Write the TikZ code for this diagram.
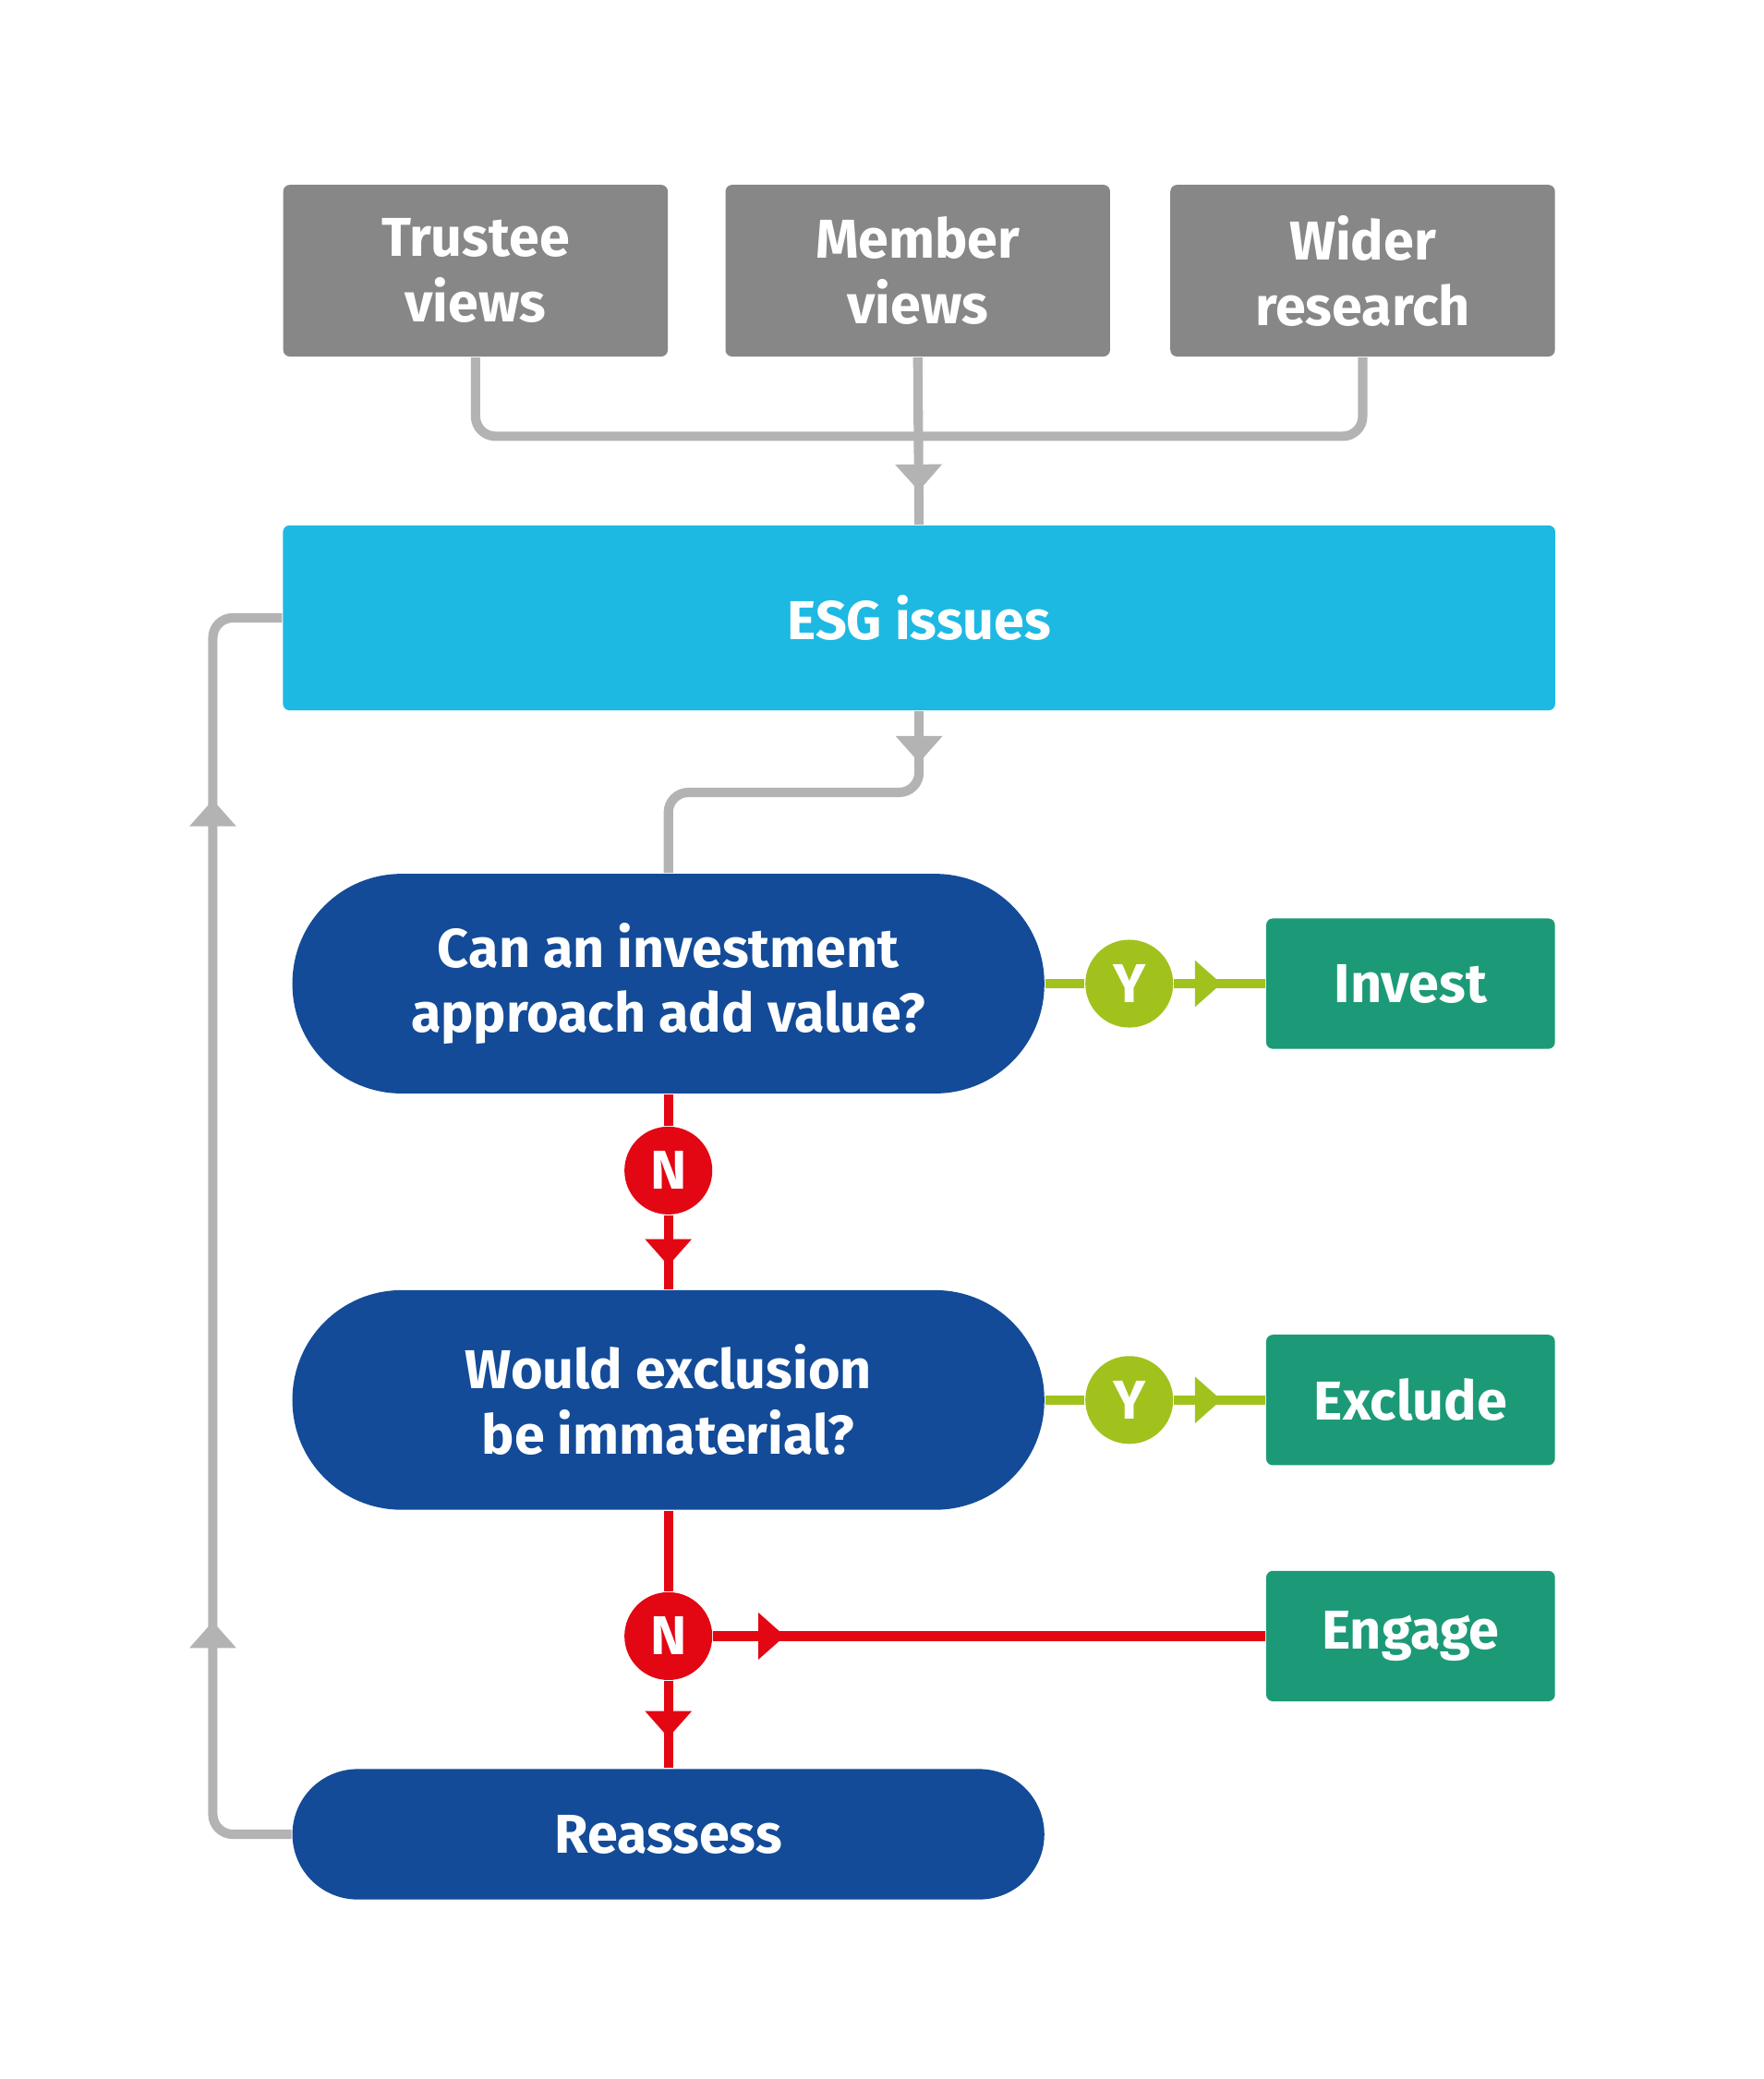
\documentclass[tikz,border=0pt]{standalone}
\usepackage{fontspec}
\setmainfont{Fira Sans}
\usetikzlibrary{arrows.meta,decorations.markings}
\definecolor{boxgray}{HTML}{878787}
\definecolor{linegray}{HTML}{B3B3B3}
\definecolor{esgblue}{HTML}{1DB9E3}
\definecolor{darkblue}{HTML}{134B98}
\definecolor{outgreen}{HTML}{1C9A77}
\definecolor{ygreen}{HTML}{A1C21D}
\definecolor{nred}{HTML}{E30613}
\tikzset{
 txt/.style={text=white,font=\fontsize{11.7}{14}\selectfont\bfseries,align=center,inner sep=0pt},
 src/.style={txt,fill=boxgray,rounded corners=0.05cm,minimum width=2.89cm,minimum height=1.29cm},
 question/.style={txt,fill=darkblue,rounded corners=0.82cm,minimum width=5.65cm,minimum height=1.65cm},
 outcome/.style={txt,fill=outgreen,rounded corners=0.05cm,minimum width=2.17cm,minimum height=0.98cm},
 answer/.style={circle,txt,minimum size=0.66cm},
 conn/.style={line width=2pt,rounded corners=0.15cm},
 tip at/.style={postaction={decorate,decoration={markings,mark=at position #1 with {\arrow{Triangle[length=0.2cm,width=0.34cm]}}}}},
}
\begin{document}
\begin{tikzpicture}[x=0.01cm,y=-0.01cm]
 \useasboundingbox (0,0) rectangle (1326,1563);
 \node[src] (trustee) at (357.5,203.5) {Trustee\\views};
 \node[src] (member) at (690,203.5) {Member\\views};
 \node[src] (wider) at (1024.5,203.5) {Wider\\research};
 \node[txt,fill=esgblue,rounded corners=0.05cm,minimum width=9.56cm,minimum height=1.39cm] (esg) at (691,464.5) {ESG issues};

 \node[question] (value) at (502.5,739.5) {Can an investment\\approach add value?};
 \node[question] (exclusion) at (502.5,1052.5) {Would exclusion\\be immaterial?};
 \node[question,minimum height=0.98cm,rounded corners=0.49cm] (reassess) at (502.5,1379) {Reassess};

 \node[outcome] (invest) at (1060.5,739.5) {Invest};
 \node[outcome] (exclude) at (1060.5,1052.5) {Exclude};
 \node[outcome] (engage) at (1060.5,1230) {Engage};

 \node[answer,fill=ygreen] (yvalue) at (849,739.5) {Y};
 \node[answer,fill=ygreen] (yexcl) at (849,1052.5) {Y};
 \node[answer,fill=nred] (nvalue) at (502.5,880) {N};
 \node[answer,fill=nred] (nexcl) at (502.5,1230) {N};

 % sources into ESG issues
 \coordinate (join) at (690,328);
 \draw[conn,linegray] (trustee.south) |- (join);
 \draw[conn,linegray] (wider.south) |- (join);
 \draw[conn,linegray,tip at=0.8] (member.south) -- (esg.north);
 \draw[conn,linegray,tip at=0.13] (esg.south) -- ++(0,61) -| (value.north);

 % yes / no branches
 \draw[conn,ygreen] (value.east) -- (yvalue);
 \draw[conn,ygreen,tip at=0.52] (yvalue) -- (invest.west);
 \draw[conn,ygreen] (exclusion.east) -- (yexcl);
 \draw[conn,ygreen,tip at=0.52] (yexcl) -- (exclude.west);
 \draw[conn,nred] (value.south) -- (nvalue);
 \draw[conn,nred,tip at=0.68] (nvalue) -- (exclusion.north);
 \draw[conn,nred] (exclusion.south) -- (nexcl);
 \draw[conn,nred,tip at=0.65] (nexcl) -- (reassess.north);
 \draw[conn,nred,tip at=0.13] (nexcl) -- (engage.west);

 % feedback loop
 \draw[conn,linegray,tip at=0.21,tip at=0.82] (reassess.west) -- (160,1379) -- (160,464.5) -- (esg.west);
\end{tikzpicture}
\end{document}
